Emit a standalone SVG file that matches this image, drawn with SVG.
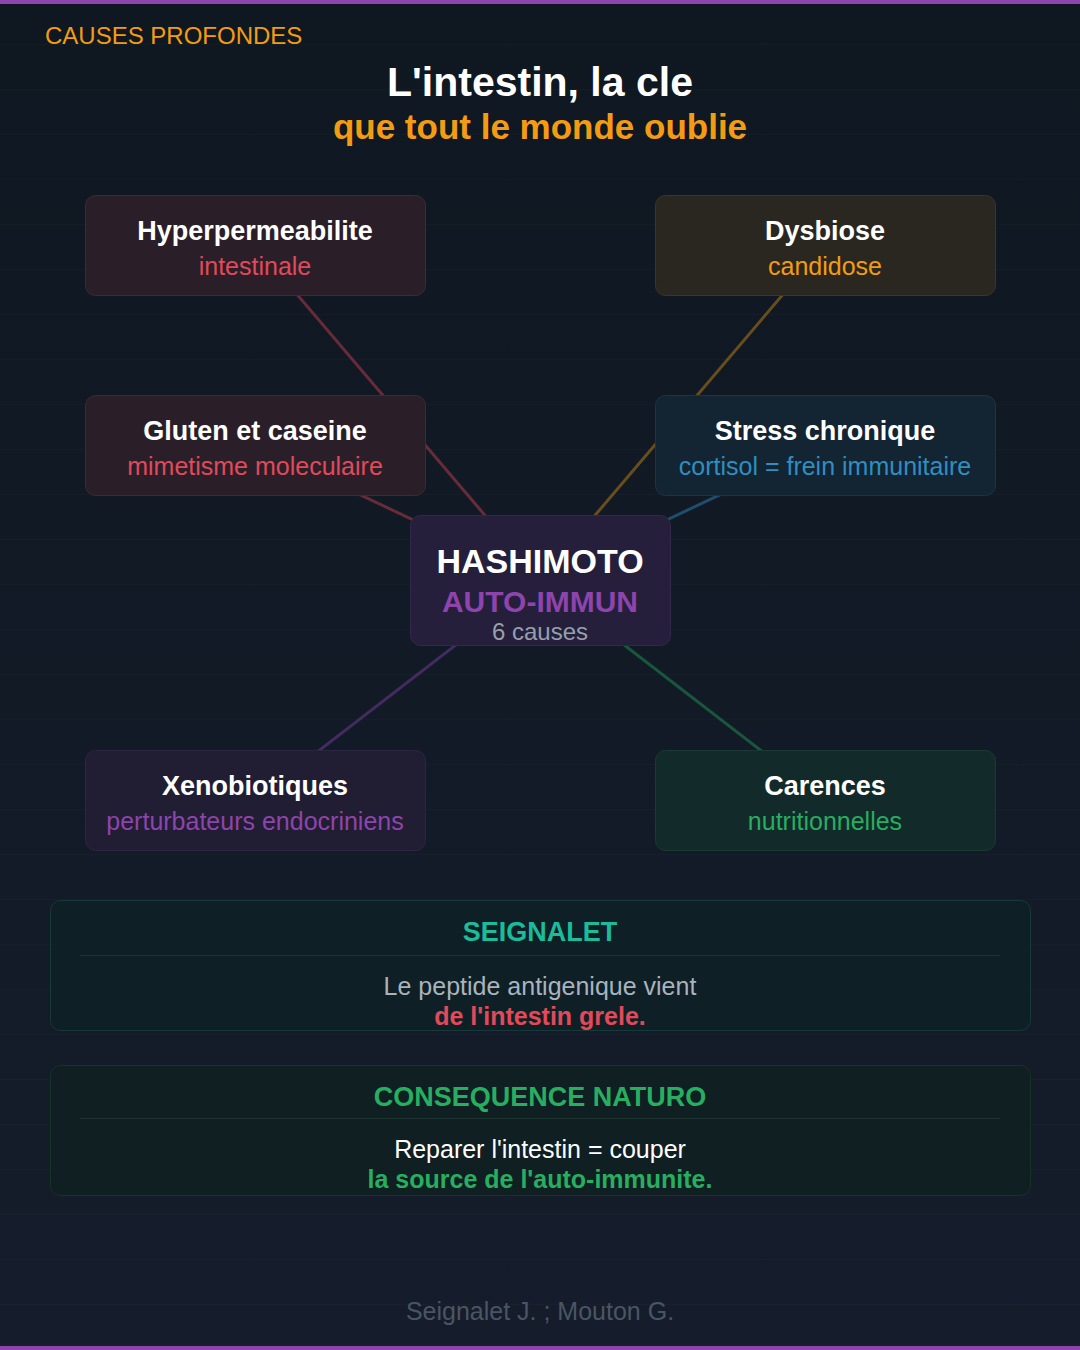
<svg xmlns="http://www.w3.org/2000/svg" width="1080" height="1350" viewBox="0 0 1080 1350">
<defs>
<linearGradient id="bg" x1="0" y1="0" x2="0" y2="1"><stop offset="0" stop-color="#0f1721"/><stop offset="1" stop-color="#151d2c"/></linearGradient>
<pattern id="grid" width="1080" height="45" patternUnits="userSpaceOnUse"><line x1="0" y1="45" x2="1080" y2="45" stroke="#ffffff" stroke-opacity="0.03"/></pattern>
</defs>
<style>
text{font-family:"Liberation Sans",Arial,sans-serif;text-anchor:middle}
.t{font-weight:bold;font-size:27px;fill:#ffffff}
.s{font-size:25px}
.c line{stroke-width:3;stroke-opacity:0.55}
.bt{font-weight:bold;font-size:27px}
</style>
<rect width="1080" height="1350" fill="url(#bg)"/>
<rect width="1080" height="1350" fill="url(#grid)"/>
<rect width="1080" height="4" fill="#8e44ad"/>
<rect y="1346" width="1080" height="4" fill="#8e44ad"/>
<text x="45" y="44" style="text-anchor:start;font-size:24px;fill:#f39c12">CAUSES PROFONDES</text>
<text x="540" y="96" style="font-weight:bold;font-size:41px;fill:#fff">L'intestin, la cle</text>
<text x="540" y="139" style="font-weight:bold;font-size:35px;fill:#f39c12">que tout le monde oublie</text>
<g class="c" id="connectors">
<line x1="540" y1="580" x2="255" y2="245" stroke="#b03a48"/>
<line x1="540" y1="580" x2="255" y2="445" stroke="#b03a48"/>
<line x1="540" y1="580" x2="825" y2="245" stroke="#b07a18"/>
<line x1="540" y1="580" x2="825" y2="445" stroke="#2a7aa8"/>
<line x1="540" y1="580" x2="255" y2="800" stroke="#6c3a90"/>
<line x1="540" y1="580" x2="825" y2="800" stroke="#1e8a4c"/>
</g>
<g id="hyper"><rect x="85.5" y="195.5" width="340" height="100" rx="10" fill="#2a1f29" stroke="#3d2a33"/><text class="t" x="255" y="240">Hyperpermeabilite</text><text class="s" x="255" y="275" fill="#e04a5a">intestinale</text></g>
<g id="dysbiose"><rect x="655.5" y="195.5" width="340" height="100" rx="10" fill="#2a2721" stroke="#3d3626"/><text class="t" x="825" y="240">Dysbiose</text><text class="s" x="825" y="275" fill="#f39c12">candidose</text></g>
<g id="gluten"><rect x="85.5" y="395.5" width="340" height="100" rx="10" fill="#2a1f29" stroke="#3d2a33"/><text class="t" x="255" y="440">Gluten et caseine</text><text class="s" x="255" y="475" fill="#e04a5a">mimetisme moleculaire</text></g>
<g id="stress"><rect x="655.5" y="395.5" width="340" height="100" rx="10" fill="#132433" stroke="#1d3446"/><text class="t" x="825" y="440">Stress chronique</text><text class="s" x="825" y="475" fill="#2e8fc0">cortisol = frein immunitaire</text></g>
<g id="hashimoto"><rect x="410.5" y="515.5" width="260" height="130" rx="10" fill="#251f3b" stroke="#32294a"/><text x="540" y="573" style="font-weight:bold;font-size:34px;fill:#fff">HASHIMOTO</text><text x="540" y="612" style="font-weight:bold;font-size:30px;fill:#8e44ad">AUTO-IMMUN</text><text x="540" y="640" style="font-size:24px;fill:#94a0ad">6 causes</text></g>
<g id="xeno"><rect x="85.5" y="750.5" width="340" height="100" rx="10" fill="#211d32" stroke="#2d2640"/><text class="t" x="255" y="795">Xenobiotiques</text><text class="s" x="255" y="830" fill="#8e44ad">perturbateurs endocriniens</text></g>
<g id="carences"><rect x="655.5" y="750.5" width="340" height="100" rx="10" fill="#132a2a" stroke="#1b3a33"/><text class="t" x="825" y="795">Carences</text><text class="s" x="825" y="830" fill="#27ae60">nutritionnelles</text></g>
<g id="seignalet"><rect x="50.5" y="900.5" width="980" height="130" rx="10" fill="#0f1f26" stroke="#163a3a"/><text class="bt" x="540" y="941" fill="#1abc9c">SEIGNALET</text><line x1="80" y1="955.5" x2="1000" y2="955.5" stroke="#1f3338"/><text class="s" x="540" y="995" fill="#a9b3bd">Le peptide antigenique vient</text><text x="540" y="1025" style="font-weight:bold;font-size:25px;fill:#e04a5a">de l'intestin grele.</text></g>
<g id="consequence"><rect x="50.5" y="1065.5" width="980" height="130" rx="10" fill="#0f1f22" stroke="#163326"/><text class="bt" x="540" y="1106" fill="#27ae60">CONSEQUENCE NATURO</text><line x1="80" y1="1118.5" x2="1000" y2="1118.5" stroke="#1d3330"/><text class="s" x="540" y="1158" fill="#ffffff">Reparer l'intestin = couper</text><text x="540" y="1188" style="font-weight:bold;font-size:25px;fill:#27ae60">la source de l'auto-immunite.</text></g>
<text x="540" y="1320" style="font-size:25px;fill:#4a5563">Seignalet J. ; Mouton G.</text>
</svg>
